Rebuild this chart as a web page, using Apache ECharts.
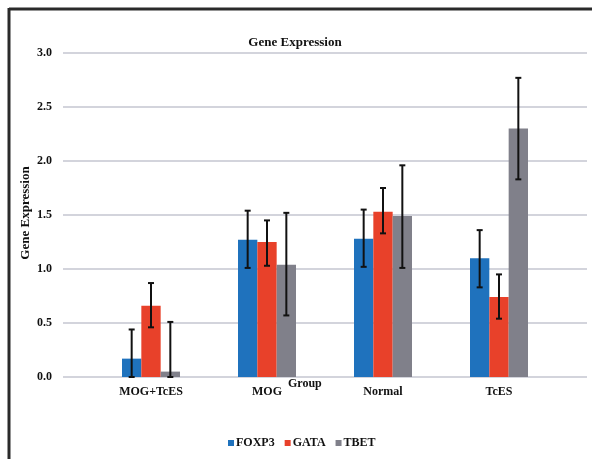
<!DOCTYPE html>
<html>
<head>
<meta charset="utf-8">
<script src="https://cdn.jsdelivr.net/npm/echarts@6/dist/echarts.min.js"></script>
<style>
    html, body { margin: 0; padding: 0; background: #fff; }
    #chart { width: 592px; height: 459px; }
</style>
</head>
<body>
<div id="chart"></div>
<script>
    // 数据
    var categories = ["MOG+TcES", "MOG", "Normal", "TcES"];
    var seriesNames = ["FOXP3", "GATA", "TBET"];
    var foxp3 = [0.17, 1.27, 1.28, 1.10];
    var gata = [0.66, 1.25, 1.53, 0.74];
    var tbet = [0.05, 1.04, 1.49, 2.30];
    // error bar ends (low / high)
    var foxp3Low = [0, 1.01, 1.02, 0.83];
    var foxp3High = [0.44, 1.54, 1.55, 1.36];
    var gataLow = [0.46, 1.03, 1.33, 0.54];
    var gataHigh = [0.87, 1.45, 1.75, 0.95];
    var tbetLow = [0, 0.57, 1.01, 1.83];
    var tbetHigh = [0.51, 1.52, 1.96, 2.77];
    var yTicks = ["0.0", "0.5", "1.0", "1.5", "2.0", "2.5", "3.0"];

    var colors = ['#1f72bd', '#e8412a', '#80808a'];
    var font = '"Liberation Serif", "DejaVu Serif", serif';

    var chart = echarts.init(document.getElementById("chart"));

    //误差线
    function errSeries(idx, low, high) {
        var data = categories.map(function (c, i) { return [i, low[i], high[i]]; });
        return {
            type: 'custom',
            xAxisIndex: 1,
            yAxisIndex: 1,
            z: 10,
            silent: true,
            data: data,
            renderItem: function (params, api) {
                var catW = api.size([1, 0])[0];
                var barW = catW * 0.5 / 3;
                var p1 = api.coord([api.value(0), api.value(1)]);
                var p2 = api.coord([api.value(0), api.value(2)]);
                var x = p1[0] + (idx - 1) * barW;
                var cap = 3;
                var st = { stroke: '#111', lineWidth: 2 };
                return {
                    type: 'group',
                    children: [
                        { type: 'line', shape: { x1: x, y1: p1[1], x2: x, y2: p2[1] }, style: st },
                        { type: 'line', shape: { x1: x - cap, y1: p2[1], x2: x + cap, y2: p2[1] }, style: st },
                        { type: 'line', shape: { x1: x - cap, y1: p1[1], x2: x + cap, y2: p1[1] }, style: st }
                    ]
                };
            }
        };
    }

    function barSeries(idx, vals) {
        return {
            name: seriesNames[idx],
            type: 'bar',
            xAxisIndex: 1,
            yAxisIndex: 1,
            barGap: 0,
            barCategoryGap: '50%',
            itemStyle: { color: colors[idx] },
            data: vals
        };
    }

    chart.setOption({
        animation: false,
        textStyle: { fontFamily: font },
        title: {
            text: "Gene Expression",
            left: 290,
            top: 31,
            textAlign: 'center',
            textStyle: { fontFamily: font, fontSize: 13, fontWeight: 'bold', color: '#111' }
        },
        legend: {
            data: seriesNames,
            left: 223,
            top: 432,
            icon: 'rect',
            itemWidth: 6,
            itemHeight: 6,
            itemGap: 10,
            textStyle: { fontFamily: font, fontSize: 12, fontWeight: 'bold', color: '#111', padding: [0, 0, 0, -3] }
        },
        grid: [
            { left: 63, right: 5, top: 53, bottom: 82 },
            { left: 93, right: 35, top: 53, bottom: 82 }
        ],
        xAxis: [
            { type: 'value', gridIndex: 0, show: false, min: 0, max: 1 },
            {
                type: 'category',
                gridIndex: 1,
                data: categories,
                axisLine: { show: false },
                axisTick: { show: false },
                axisLabel: { margin: 9, fontFamily: font, fontSize: 12, fontWeight: 'bold', color: '#111' }
            }
        ],
        yAxis: [
            {
                type: 'value',
                gridIndex: 0,
                min: 0,
                max: 3,
                interval: 0.5,
                axisLine: { show: false },
                axisTick: { show: false },
                axisLabel: {
                    margin: 11,
                    fontFamily: font, fontSize: 12, fontWeight: 'bold', color: '#111',
                    formatter: function (v) { return yTicks[Math.round(v * 2)]; }
                },
                splitLine: { lineStyle: { color: '#c4c6d0', width: 1.5 } }
            },
            { type: 'value', gridIndex: 1, min: 0, max: 3, interval: 0.5, show: false, splitLine: { show: false } }
        ],
        graphic: [
            {
                type: 'text', x: 26, y: 213, rotation: Math.PI / 2,
                style: {
                    text: "Gene Expression", fontFamily: font, fontSize: 13, fontWeight: 'bold', fill: '#111',
                    align: 'center', verticalAlign: 'middle'
                }
            },
            {
                type: 'text', left: 288, top: 378,
                style: { text: "Group", fontFamily: font, fontSize: 12, fontWeight: 'bold', fill: '#111' }
            },
            { type: 'line', shape: { x1: 9, y1: 9, x2: 592, y2: 9 }, style: { stroke: '#2a2a2a', lineWidth: 3 } },
            { type: 'line', shape: { x1: 9, y1: 8, x2: 9, y2: 459 }, style: { stroke: '#2a2a2a', lineWidth: 3 } }
        ],
        series: [
            barSeries(0, foxp3),
            barSeries(1, gata),
            barSeries(2, tbet),
            errSeries(0, foxp3Low, foxp3High),
            errSeries(1, gataLow, gataHigh),
            errSeries(2, tbetLow, tbetHigh)
        ]
    });
</script>
</body>
</html>
